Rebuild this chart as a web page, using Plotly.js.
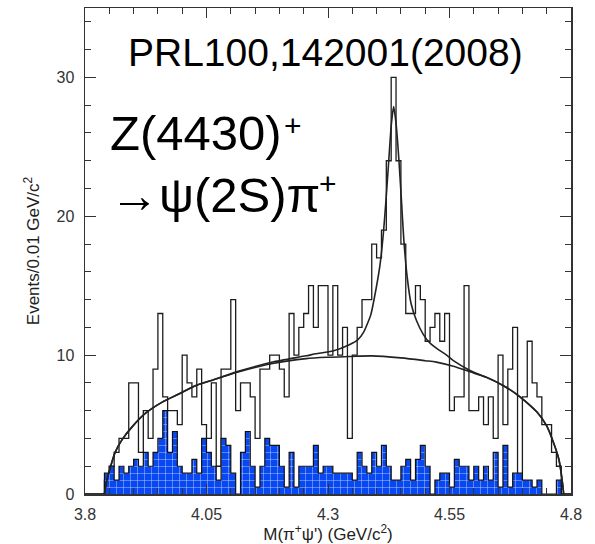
<!DOCTYPE html>
<html><head><meta charset="utf-8">
<script src="https://cdn.plot.ly/plotly-3.0.1.min.js"></script>
<style>html,body{margin:0;padding:0;background:#fff}#chart{width:595px;height:544px}</style>
</head><body><div id="chart"></div>
<script>
// Bins: 0.01 GeV/c^2 wide, starting at 3.80
const binStart = 3.80;
const binWidth = 0.01;

// Events per bin (black histogram)
const signalCounts = [
  0,0,0,0,1,2,3,4,4,8,
  8,3,6,4,9,13,7,6,6,5,
  10,8,7,9,5,4,8,2,9,9,
  14,6,8,8,7,4,9,9,10,10,
  9,7,13,10,12,13,15,12,15,15,
  10,15,10,12,4,10,12,14,14,18,
  17,19,24,30,24,18,13,13,15,14,
  11,12,13,11,13,6,7,7,15,6,
  6,7,5,7,4,10,5,9,12,0,
  7,11,8,7,5,5,3,2,0,0
];

// Scaled sideband background (blue histogram)
const sidebandCounts = [
  0,0,0,0,1.5,2,1,2,1.5,2,
  2.5,2,3,2,3,4,6,3,4.5,2,
  1.5,1.5,2.5,1.5,4,3,2,1,4,3.5,
  1.5,0,3,4.5,2,0.5,2,4,3.5,3.5,
  2,0.5,3,0.5,2,2,2,3.5,1.5,2,
  2,1.5,1.5,1.5,1.5,1,3,2,1.5,3,
  2,3.5,2,1,1,2,2.5,1,2.5,3.5,
  2,0,1,1.5,1.5,0.5,2.5,2,2,1,
  2,1,2,1,3,0.5,3.5,0.5,1.5,1.5,
  1,1,0.5,1,0,0,0,1,0,0
];

// Background fit curve
const bgFitX = [3.840,3.845,3.852,3.862,3.876,3.896,3.924,3.958,3.993,4.027,4.062,4.117,4.186,4.255,4.300,4.344,4.390,4.450,4.500,4.523,4.558,4.592,4.626,4.661,4.695,4.730,4.750,4.765,4.775,4.781,4.785];
const bgFitY = [0,1.0,1.9,3.0,3.9,4.8,5.8,6.6,7.2,7.8,8.2,8.8,9.4,9.75,9.85,9.9,9.95,9.8,9.6,9.5,9.2,8.8,8.4,7.8,7.0,5.9,4.9,3.6,2.5,1.2,0];

// Total fit curve (signal + background)
const totalFitX = [3.840,3.845,3.852,3.862,3.876,3.896,3.924,3.958,3.993,4.027,4.062,4.117,4.186,4.255,4.275,4.310,4.344,4.361,4.374,4.388,4.399,4.407,4.414,4.419,4.425,4.430,4.435,4.440,4.446,4.451,4.456,4.463,4.471,4.482,4.496,4.509,4.523,4.544,4.558,4.592,4.626,4.661,4.695,4.730,4.750,4.765,4.775,4.781,4.785];
const totalFitY = [0,1.0,1.9,3.0,3.9,4.8,5.8,6.6,7.2,7.8,8.2,8.85,9.5,9.95,10.1,10.3,10.75,11.1,11.7,12.9,14.8,16.5,18.8,21.0,24.0,26.5,27.9,26.7,24.0,21.2,18.3,15.6,13.7,12.5,11.5,10.9,10.5,10.0,9.6,8.9,8.4,7.8,7.0,5.9,4.9,3.6,2.5,1.2,0];

const xTickVals = [3.8, 4.05, 4.3, 4.55, 4.8];
const xTickText = ['3.8', '4.05', '4.3', '4.55', '4.8'];
const yTickVals = [0, 10, 20, 30];
const yTickText = ['0', '10', '20', '30'];

function stepXY(counts) {
  const xs = [], ys = [];
  counts.forEach((c, i) => { xs.push(+(binStart + i * binWidth).toFixed(3)); ys.push(c); });
  xs.push(+(binStart + counts.length * binWidth).toFixed(3));
  ys.push(counts[counts.length - 1]);
  return { xs, ys };
}

const sig = stepXY(signalCounts);
const sb = stepXY(sidebandCounts);
const blue = '#0848f2';

const traces = [
  { x: sig.xs, y: sig.ys, type: 'scatter', mode: 'lines',
    line: { shape: 'hv', color: '#1c1c1c', width: 1.3 }, hoverinfo: 'skip' },
  { x: sb.xs, y: sb.ys, type: 'scatter', mode: 'lines',
    line: { shape: 'hv', color: '#111', width: 1.2 },
    fill: 'tozeroy', fillcolor: blue,
    fillpattern: { shape: '+', fgcolor: 'rgba(255,255,255,0.8)', bgcolor: blue, size: 7, solidity: 0.12 },
    hoverinfo: 'skip' },
  { x: bgFitX, y: bgFitY, type: 'scatter', mode: 'lines',
    line: { shape: 'spline', smoothing: 0.8, color: '#222', width: 1.6 }, hoverinfo: 'skip' },
  { x: totalFitX, y: totalFitY, type: 'scatter', mode: 'lines',
    line: { shape: 'spline', smoothing: 0.5, color: '#222', width: 1.6 }, hoverinfo: 'skip' }
];

const axisCommon = {
  showgrid: false, zeroline: false, showline: true, linecolor: '#333', linewidth: 1.5,
  mirror: 'allticks', ticks: 'inside', tickcolor: '#333', tickwidth: 1
};

const layout = {
  width: 595, height: 544,
  margin: { l: 85, r: 24, t: 8, b: 50 },
  paper_bgcolor: '#fff', plot_bgcolor: '#fff', showlegend: false,
  font: { family: 'Liberation Sans, Arial, sans-serif', color: '#222' },
  xaxis: Object.assign({}, axisCommon, {
    range: [3.8, 4.8], tickmode: 'array', tickvals: xTickVals, ticktext: xTickText,
    ticklen: 10, tickfont: { size: 16, color: '#333' }, ticklabelstandoff: 5,
    minor: { dtick: 0.05, tick0: 3.8, ticks: 'inside', ticklen: 6, tickcolor: '#333', showgrid: false },
    title: { text: "M(\u03c0<sup>+</sup>\u03c8') (GeV/c<sup>2</sup>)", font: { size: 17, color: '#222' }, standoff: 2 }
  }),
  yaxis: Object.assign({}, axisCommon, {
    range: [0, 35], tickmode: 'array', tickvals: yTickVals, ticktext: yTickText,
    ticklen: 11, tickfont: { size: 16, color: '#333' }, ticklabelstandoff: 6,
    minor: { dtick: 2, tick0: 0, ticks: 'inside', ticklen: 6, tickcolor: '#333', showgrid: false },
    title: { text: 'Events/0.01 GeV/c<sup>2</sup>', font: { size: 17, color: '#222' }, standoff: 12 }
  }),
  annotations: [
    { text: 'PRL100,142001(2008)', xref: 'paper', yref: 'paper', x: 0.494, y: 0.908,
      xanchor: 'center', yanchor: 'middle', showarrow: false, font: { size: 39, color: '#000' } },
    { text: 'Z(4430)', xref: 'paper', yref: 'paper', x: 0.047, y: 0.742,
      xanchor: 'left', yanchor: 'middle', showarrow: false, font: { size: 49, color: '#000' } },
    { text: '+', xref: 'paper', yref: 'paper', x: 0.428, y: 0.758,
      xanchor: 'center', yanchor: 'middle', showarrow: false, font: { size: 30, color: '#000' } },
    { text: '\u2192\u03c8(2S)\u03c0', xref: 'paper', yref: 'paper', x: 0.047, y: 0.615,
      xanchor: 'left', yanchor: 'middle', showarrow: false, font: { size: 49, color: '#000' } },
    { text: '+', xref: 'paper', yref: 'paper', x: 0.499, y: 0.639,
      xanchor: 'center', yanchor: 'middle', showarrow: false, font: { size: 30, color: '#000' } }
  ]
};

Plotly.newPlot('chart', traces, layout, { displayModeBar: false, staticPlot: true });
</script>
</body></html>
